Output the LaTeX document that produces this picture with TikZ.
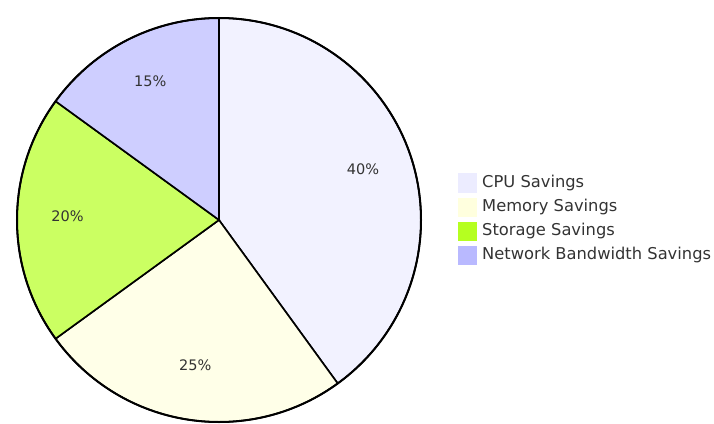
\documentclass[tikz,border=0pt]{standalone}
\usepackage{fontspec}
\setmainfont{DejaVu Sans}

\definecolor{cpucol}{HTML}{ECECFF}
\definecolor{memcol}{HTML}{FFFFDE}
\definecolor{stocol}{HTML}{B5FF20}
\definecolor{netcol}{HTML}{B9B9FF}
\definecolor{txtcol}{HTML}{333333}

\begin{document}
\begin{tikzpicture}[x=1pt,y=1pt,
   slice/.style={draw=black, line width=1.6pt, fill opacity=0.7},
   pct/.style={text=txtcol, font=\fontsize{14.5}{16}\selectfont, yshift=4pt},
   keybox/.style={minimum size=19pt, inner sep=0pt},
   keytext/.style={anchor=west, inner sep=0pt, text=txtcol, font=\fontsize{16.3}{18}\selectfont}]

   \useasboundingbox (-219,-203) rectangle (495,220);

%    slices, clockwise from the top
   \draw[slice, fill=cpucol] (0,0) -- (90:202pt) arc (90:-54:202pt) -- cycle;
   \draw[slice, fill=memcol] (0,0) -- (-54:202pt) arc (-54:-144:202pt) -- cycle;
   \draw[slice, fill=stocol] (0,0) -- (-144:202pt) arc (-144:-216:202pt) -- cycle;
   \draw[slice, fill=netcol] (0,0) -- (144:202pt) arc (144:90:202pt) -- cycle;

   \draw[line width=2pt] (0,0) circle (202pt);

   \node[pct] (cpu) at (18:151.5pt) {40\%};
   \node[pct] (mem) at (-99:151.5pt) {25\%};
   \node[pct] (sto) at (180:151.5pt) {20\%};
   \node[pct] (net) at (117:151.5pt) {15\%};

%    legend
   \node[keybox, fill=cpucol] (cpukey) at (248,37) {};
   \node[keybox, fill=memcol] (memkey) at (248,13) {};
   \node[keybox, fill=stocol] (stokey) at (248,-11) {};
   \node[keybox, fill=netcol] (netkey) at (248,-35) {};

   \node[keytext] (cputext) at (263,37) {CPU Savings};
   \node[keytext] (memtext) at (263,13) {Memory Savings};
   \node[keytext] (stotext) at (263,-11) {Storage Savings};
   \node[keytext] (nettext) at (263,-35) {Network Bandwidth Savings};

\end{tikzpicture}
\end{document}
